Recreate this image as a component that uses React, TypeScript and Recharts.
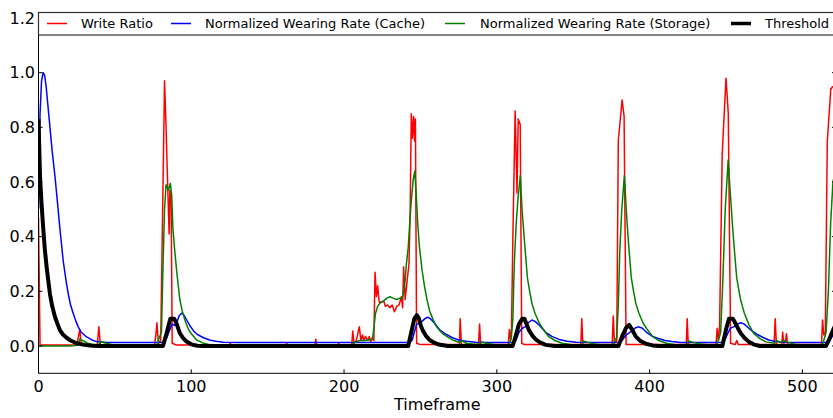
import React from 'react';
import { LineChart, Line, XAxis, YAxis } from 'recharts';

// values: [timeframe, value]
const writeRatio: [number, number][] = [
  [0, 0.47], [1, 0.004], [25, 0.004], [26, 0.03], [27, 0.06], [28, 0.004],
  [38.5, 0.004], [39.5, 0.07], [40.5, 0.004], [76, 0.004], [77, 0.05], [77.5, 0.085],
  [78.5, 0.01], [80, 0.02], [81, 0.4], [82.5, 0.97], [83.5, 0.8], [84.5, 0.6],
  [85.5, 0.41], [86, 0.57], [86.8, 0.55], [87.5, 0.01], [90, 0.004], [125, 0.004],
  [125.5, 0.012], [126, 0.004], [162, 0.004], [162.5, 0.01], [163, 0.004], [181, 0.004],
  [181.5, 0.025], [182, 0.004], [196, 0.004], [196.5, 0.01], [197, 0.004], [205, 0.004],
  [205.7, 0.055], [206.5, 0.01], [208, 0.02], [209, 0.045], [210, 0.07], [211, 0.02],
  [212, 0.04], [213, 0.02], [214, 0.035], [215.5, 0.02], [216.5, 0.035], [217.5, 0.015],
  [218.5, 0.03], [219.5, 0.02], [220.3, 0.27], [221.2, 0.18], [222, 0.22], [223, 0.16],
  [224.5, 0.16], [226, 0.165], [227, 0.145], [228.5, 0.15], [230, 0.14], [231.5, 0.15],
  [233, 0.125], [234.5, 0.145], [236, 0.15], [237.5, 0.18], [238.3, 0.14], [239, 0.29],
  [240, 0.17], [241.3, 0.24], [242.5, 0.3], [243.3, 0.5], [244, 0.85], [244.8, 0.76],
  [245.5, 0.84], [246.2, 0.75], [246.7, 0.83], [247.5, 0.01], [250, 0.005], [275.5, 0.005],
  [276, 0.1], [276.8, 0.005], [288, 0.005], [288.7, 0.08], [289.4, 0.005], [307.5, 0.005],
  [308.2, 0.06], [309, 0.02], [309.6, 0.065], [310.5, 0.4], [312, 0.86], [313.2, 0.56],
  [314, 0.83], [315.3, 0.81], [316.3, 0.01], [318, 0.005], [355, 0.005], [355.6, 0.1],
  [356.3, 0.005], [375.5, 0.005], [376.2, 0.11], [377, 0.01], [378.5, 0.02], [379.5, 0.75],
  [382, 0.9], [383.3, 0.84], [384.6, 0.005], [424, 0.005], [424.6, 0.1], [425.3, 0.005],
  [443.5, 0.005], [444.2, 0.065], [445, 0.02], [445.8, 0.07], [447.5, 0.7], [450, 0.98],
  [451.5, 0.85], [453, 0.01], [456, 0.005], [457, 0.02], [458, 0.005], [481.5, 0.005],
  [482.2, 0.1], [483, 0.005], [486.5, 0.005], [487.1, 0.05], [487.8, 0.01], [489, 0.02],
  [489.6, 0.045], [490.3, 0.005], [512.5, 0.005], [513.2, 0.095], [514, 0.04], [515, 0.05],
  [516.3, 0.75], [518.6, 0.94], [520, 0.95],
];

const wearCache: [number, number][] = [
  [0, 0.5], [1, 0.85], [2, 0.97], [3, 1.0], [4, 0.99], [5, 0.95], [6, 0.89], [7.5, 0.8],
  [9, 0.71], [10.8, 0.62], [12.5, 0.52], [14, 0.43], [16.2, 0.31], [18, 0.24], [19.5, 0.19],
  [21, 0.15], [22.7, 0.12], [24.5, 0.09], [26, 0.07], [28, 0.05], [31.5, 0.033], [35, 0.022],
  [38, 0.016], [45, 0.013], [80, 0.013], [82, 0.015], [84, 0.03], [86, 0.06], [87.5, 0.08],
  [89, 0.075], [90.5, 0.085], [92, 0.11], [93.6, 0.12], [95, 0.115], [97, 0.095], [99, 0.075],
  [101.5, 0.055], [104, 0.042], [108, 0.03], [112, 0.022], [116, 0.017], [121, 0.014],
  [130, 0.013], [243, 0.013], [244.5, 0.02], [246, 0.05], [247.5, 0.08], [249.4, 0.083],
  [251, 0.09], [253, 0.1], [254.6, 0.105], [256.5, 0.1], [259, 0.085], [262.4, 0.06],
  [266, 0.045], [271, 0.03], [275, 0.022], [280, 0.017], [286, 0.014], [295, 0.013],
  [311, 0.013], [312.5, 0.02], [314.5, 0.05], [316.7, 0.065], [318.5, 0.07], [320.5, 0.085],
  [323, 0.095], [325, 0.09], [328, 0.075], [332, 0.05], [336, 0.035], [340.8, 0.024],
  [346, 0.017], [352, 0.014], [360, 0.013], [380, 0.013], [382, 0.02], [384.5, 0.04],
  [386.6, 0.048], [388.5, 0.055], [390.5, 0.066], [392.5, 0.07], [395, 0.066], [398, 0.05],
  [401.6, 0.036], [406, 0.027], [410, 0.02], [414.7, 0.016], [420, 0.013], [448, 0.013],
  [449.5, 0.025], [451.5, 0.05], [453, 0.066], [455, 0.07], [457.5, 0.08], [459.6, 0.085],
  [462, 0.08], [465, 0.065], [467, 0.055], [470.5, 0.042], [474, 0.032], [478, 0.022],
  [482.5, 0.016], [488, 0.013], [516, 0.013], [518, 0.02], [520, 0.04],
];

const wearStorage: [number, number][] = [
  [0, 0], [20, 0], [26, 0.003], [27, 0.025], [29, 0.02], [32, 0.01], [36, 0.005],
  [39.5, 0.005], [40.5, 0.017], [43, 0.012], [47, 0.006], [52, 0.002], [60, 0], [77, 0],
  [78, 0.01], [79, 0.03], [80.5, 0.05], [81.3, 0.25], [82.5, 0.5], [83.5, 0.59], [85, 0.57],
  [86.3, 0.595], [87.2, 0.55], [88, 0.43], [89, 0.36], [90.5, 0.27], [92.5, 0.17], [94, 0.13],
  [95.8, 0.095], [97.5, 0.07], [99, 0.052], [101, 0.038], [103.5, 0.022], [107, 0.012],
  [112, 0.005], [120, 0.001], [180, 0], [181.5, 0.005], [184, 0.004], [205, 0.004],
  [206, 0.01], [210, 0.02], [213, 0.02], [216, 0.022], [218.6, 0.025], [219.6, 0.07],
  [220.6, 0.12], [222, 0.145], [224, 0.16], [226, 0.165], [228, 0.175], [230, 0.18],
  [232, 0.175], [234.6, 0.17], [236.5, 0.175], [238, 0.175], [239, 0.2], [240, 0.24],
  [240.8, 0.3], [242, 0.36], [243, 0.45], [244, 0.53], [245.3, 0.61], [246.3, 0.64],
  [247.3, 0.55], [248.3, 0.44], [249.4, 0.36], [251, 0.28], [252.6, 0.22], [254.3, 0.17],
  [255.9, 0.13], [258, 0.1], [260, 0.075], [262.4, 0.058], [265, 0.043], [268, 0.032],
  [271, 0.022], [276, 0.012], [277, 0.02], [280, 0.01], [285, 0.006], [289, 0.006],
  [290, 0.015], [293, 0.01], [300, 0.004], [308, 0.004], [309.5, 0.03], [310.5, 0.1],
  [311.4, 0.3], [312.7, 0.45], [314, 0.55], [315.4, 0.624], [316.5, 0.5], [318, 0.39],
  [320, 0.25], [321.5, 0.2], [323, 0.155], [325, 0.12], [327.8, 0.083], [330.5, 0.06],
  [334, 0.034], [338, 0.02], [342.8, 0.01], [350, 0.004], [355.5, 0.004], [356.5, 0.018],
  [359, 0.014], [363, 0.008], [370, 0.003], [376, 0.003], [377, 0.02], [378.5, 0.03],
  [379.5, 0.15], [380.5, 0.35], [381.8, 0.5], [383.5, 0.624], [384.7, 0.5], [386, 0.39],
  [388, 0.25], [389.5, 0.2], [391, 0.155], [393, 0.12], [395.8, 0.083], [398.5, 0.06],
  [402, 0.034], [406, 0.02], [411, 0.01], [418, 0.004], [424.5, 0.004], [425.5, 0.018],
  [428, 0.014], [432, 0.008], [440, 0.003], [444, 0.004], [445, 0.02], [446.5, 0.05],
  [448, 0.25], [449.5, 0.5], [451.4, 0.68], [452.7, 0.57], [454, 0.46], [455.5, 0.35],
  [457, 0.25], [459.5, 0.17], [462, 0.12], [465, 0.078], [468, 0.047], [472, 0.028],
  [476, 0.015], [482, 0.01], [483, 0.02], [486, 0.013], [487.5, 0.02], [490, 0.014],
  [495, 0.006], [505, 0.002], [513, 0.003], [514, 0.02], [515.5, 0.05], [517, 0.2],
  [518.5, 0.45], [520, 0.6], [522, 0.65],
];

const threshold: [number, number][] = [
  [0, 0.83], [1, 0.62], [2, 0.52], [3.1, 0.43], [4.2, 0.35], [5.3, 0.29], [6.5, 0.235],
  [7.5, 0.19], [9, 0.145], [10.8, 0.106], [12.5, 0.08], [14, 0.058], [16, 0.042],
  [18.4, 0.03], [21, 0.02], [25, 0.01], [30, 0.004], [35, 0.001], [40, 0], [81.5, 0],
  [84, 0.05], [86.3, 0.1], [88.8, 0.1], [90.5, 0.08], [92.5, 0.047], [94.5, 0.03],
  [96.9, 0.016], [100, 0.006], [104, 0.001], [108, 0], [242, 0], [244, 0.05], [246, 0.1],
  [247.6, 0.113], [249, 0.1], [250.2, 0.075], [251.4, 0.058], [253.5, 0.038], [256, 0.022],
  [259, 0.012], [262, 0.005], [268, 0], [310.4, 0], [312.5, 0.04], [314.5, 0.08],
  [316.7, 0.1], [318, 0.1], [319.5, 0.08], [321, 0.058], [323.5, 0.036], [325.8, 0.022],
  [328.5, 0.012], [332, 0.004], [338, 0], [379.6, 0], [382, 0.035], [384.5, 0.065],
  [386.6, 0.077], [388.5, 0.06], [391, 0.034], [394, 0.018], [397.5, 0.008], [402, 0.002],
  [406, 0], [447.6, 0], [450, 0.06], [452, 0.1], [454.5, 0.1], [456, 0.085], [457.8, 0.065],
  [459.6, 0.047], [462, 0.03], [465, 0.015], [468, 0.006], [472, 0], [515.5, 0], [518, 0.03],
  [520, 0.058], [522, 0.08],
];

const xTicks = [0, 100, 200, 300, 400, 500];
const yTicks = [0, 0.2, 0.4, 0.6, 0.8, 1.0, 1.2];

const legendItems = [
  { name: 'Write Ratio', color: '#ff0000', width: 1.5, lineX: 47, textX: 81 },
  { name: 'Normalized Wearing Rate (Cache)', color: '#0000ff', width: 1.5, lineX: 171, textX: 205 },
  { name: 'Normalized Wearing Rate (Storage)', color: '#008000', width: 1.5, lineX: 445, textX: 480 },
  { name: 'Threshold', color: '#000000', width: 3.5, lineX: 731, textX: 765 },
];

const FONT = '"DejaVu Sans", sans-serif';
const rows = (pts: [number, number][]) => pts.map(([t, v]) => ({ t, v }));

const XTick = ({ x, y, payload }: any) => (
  <g>
    <line x1={x} x2={x} y1={y} y2={y - 4} stroke="#000" />
    <text x={x} y={y + 18.4} textAnchor="middle" fontSize={16} fontFamily={FONT} fill="#000">
      {payload.value}
    </text>
  </g>
);

const YTick = ({ x, y, payload }: any) => (
  <g>
    <line x1={x} x2={x + 4} y1={y} y2={y} stroke="#000" />
    <text x={x - 3.5} y={y} dy="0.36em" textAnchor="end" fontSize={16} fontFamily={FONT} fill="#000">
      {Number(payload.value).toFixed(1)}
    </text>
  </g>
);

const RightTick = ({ x, y }: any) => <line x1={x - 4} x2={x} y1={y} y2={y} stroke="#000" />;

const ChartLegend = () => (
  <svg width={833} height={40} style={{ position: 'absolute', left: 0, top: 0 }}>
    <rect x={38.5} y={12.5} width={800} height={22.5} fill="#fff" stroke="#333" strokeWidth={1.2} />
    {legendItems.map((it) => (
      <g key={it.name}>
        <line x1={it.lineX} x2={it.lineX + 20} y1={23.5} y2={23.5} stroke={it.color} strokeWidth={it.width} />
        <text x={it.textX} y={27.7} fontSize={13} fontFamily={FONT} fill="#000">{it.name}</text>
      </g>
    ))}
  </svg>
);

export default function App() {
  return (
    <div style={{ position: 'absolute', left: 0, top: 0, width: 833, height: 418, overflow: 'hidden', background: '#fff', fontFamily: FONT }}>
      <LineChart width={836} height={418} margin={{ top: 18, right: 0, bottom: 0, left: 0 }}>
        <XAxis
          dataKey="t"
          type="number"
          domain={[0, 522]}
          ticks={xTicks}
          allowDataOverflow
          height={44.7}
          tickSize={0}
          tickMargin={0}
          tickLine={false}
          tick={<XTick />}
          axisLine={{ stroke: '#000' }}
          label={{ value: 'Timeframe', position: 'insideBottom', offset: 8, fontSize: 16, fontFamily: FONT, fill: '#000' }}
        />
        <YAxis
          type="number"
          domain={[-0.1, 1.2]}
          ticks={yTicks}
          allowDataOverflow
          width={38.5}
          tickSize={0}
          tickMargin={0}
          tickLine={false}
          tick={<YTick />}
          axisLine={{ stroke: '#000' }}
        />
        <YAxis
          yAxisId="r"
          orientation="right"
          mirror
          type="number"
          domain={[-0.1, 1.2]}
          ticks={yTicks}
          allowDataOverflow
          tickSize={0}
          tickMargin={0}
          tickLine={false}
          tick={<RightTick />}
          axisLine={{ stroke: '#000' }}
        />
        <Line data={rows(writeRatio)} dataKey="v" name="Write Ratio" type="linear" stroke="#ff0000" strokeWidth={1.5} dot={false} activeDot={false} isAnimationActive={false} strokeLinejoin="round" />
        <Line data={rows(wearCache)} dataKey="v" name="Normalized Wearing Rate (Cache)" type="linear" stroke="#0000ff" strokeWidth={1.5} dot={false} activeDot={false} isAnimationActive={false} strokeLinejoin="round" />
        <Line data={rows(wearStorage)} dataKey="v" name="Normalized Wearing Rate (Storage)" type="linear" stroke="#008000" strokeWidth={1.5} dot={false} activeDot={false} isAnimationActive={false} strokeLinejoin="round" />
        <Line data={rows(threshold)} dataKey="v" name="Threshold" type="linear" stroke="#000000" strokeWidth={4} dot={false} activeDot={false} isAnimationActive={false} strokeLinejoin="round" />
      </LineChart>
      <ChartLegend />
    </div>
  );
}
